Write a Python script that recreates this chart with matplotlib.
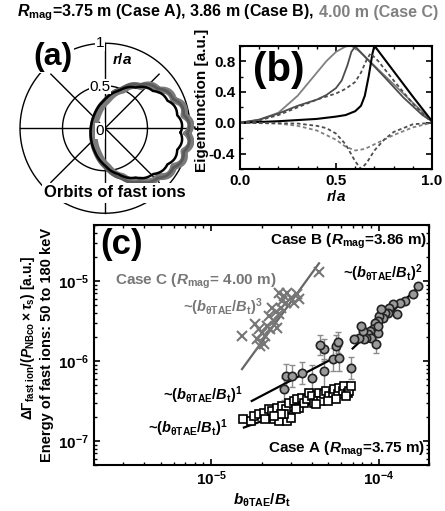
import numpy as np
import matplotlib
matplotlib.use("Agg")
import matplotlib.pyplot as plt
from matplotlib.ticker import MultipleLocator, FixedLocator, LogLocator, NullFormatter

plt.rcParams['font.family'] = ['Liberation Sans', 'DejaVu Sans']
plt.rcParams['font.weight'] = 'bold'
plt.rcParams['mathtext.fontset'] = 'custom'
plt.rcParams['mathtext.rm'] = 'Liberation Sans:bold'
plt.rcParams['mathtext.it'] = 'Liberation Sans:italic:bold'
plt.rcParams['mathtext.bf'] = 'Liberation Sans:bold'
plt.rcParams['axes.linewidth'] = 1.5
for ax_ in ('xtick', 'ytick'):
    plt.rcParams[ax_ + '.direction'] = 'in'
    plt.rcParams[ax_ + '.major.width'] = 1.2
    plt.rcParams[ax_ + '.minor.width'] = 1.0
    plt.rcParams[ax_ + '.major.size'] = 4
    plt.rcParams[ax_ + '.minor.size'] = 2
    plt.rcParams[ax_ + '.labelsize'] = 11
plt.rcParams['xtick.top'] = True
plt.rcParams['ytick.right'] = True

GRAY = '#808080'
DGRAY = '#4d4d4d'

# ---------------- panel (a): polar frame + orbits
grid_radii = [0.5, 1.0]
grid_angles_full = [0, 90]
grid_angles_diag = [45, 135]
orbit_cx = [0.42, 0.40, 0.36]
orbit_cy = [-0.06, -0.06, -0.05]
orbit_r = [0.55, 0.57, 0.53]
orbit_ripple = [0.05, 0.03, 0.025]
orbit_color = ['#7a7a7a', '#5a5a5a', 'black']
orbit_lw = [5.0, 2.0, 1.8]

# ---------------- panel (b): eigenfunctions
rb_c = [0, 0.1, 0.2, 0.3, 0.4, 0.45, 0.5, 0.55, 0.58, 0.62, 0.7, 0.8, 0.9, 1.0]
eb_c = [0, 0.04, 0.13, 0.35, 0.65, 0.8, 0.92, 0.99, 1.0, 0.93, 0.74, 0.5, 0.26, 0.02]
rb_b = [0, 0.1, 0.2, 0.3, 0.4, 0.45, 0.5, 0.53, 0.56, 0.58, 0.6, 0.65, 0.75, 0.85, 0.95, 1.0]
eb_b = [0, 0.04, 0.12, 0.22, 0.3, 0.36, 0.45, 0.55, 0.75, 0.92, 0.99, 0.86, 0.6, 0.33, 0.1, 0.02]
rb_b2 = [0, 0.1, 0.2, 0.3, 0.4, 0.5, 0.55, 0.6, 0.63, 0.66, 0.68, 0.72, 0.8, 0.9, 1.0]
eb_b2 = [0, 0.03, 0.1, 0.2, 0.3, 0.38, 0.44, 0.53, 0.65, 0.82, 0.9, 0.8, 0.55, 0.25, 0.0]
rb_a = [0, 0.2, 0.4, 0.5, 0.55, 0.6, 0.63, 0.65, 0.67, 0.69, 0.70, 0.8, 0.9, 1.0]
eb_a = [0, 0.02, 0.05, 0.08, 0.1, 0.15, 0.22, 0.35, 0.6, 0.9, 1.0, 0.67, 0.34, 0.02]
rb_cn = [0, 0.2, 0.3, 0.4, 0.5, 0.55, 0.6, 0.65, 0.7, 0.8, 0.9, 1.0]
eb_cn = [0, -0.01, -0.04, -0.1, -0.22, -0.31, -0.36, -0.34, -0.28, -0.16, -0.06, 0]
rb_bn = [0, 0.3, 0.4, 0.45, 0.5, 0.55, 0.6, 0.63, 0.66, 0.7, 0.75, 0.8, 0.9, 1.0]
eb_bn = [0, -0.01, -0.04, -0.07, -0.14, -0.28, -0.5, -0.6, -0.52, -0.36, -0.22, -0.12, -0.02, 0]

# ---------------- panel (c): losses vs b/B
case_c_x = [1.53e-5, 4.41e-5, 1.88e-5, 1.97e-5, 2.06e-5, 1.92e-5, 2.01e-5, 2.11e-5, 2.16e-5,
            2.26e-5, 2.37e-5, 2.48e-5, 2.54e-5, 2.43e-5, 2.60e-5, 2.66e-5, 2.72e-5, 2.85e-5,
            2.99e-5, 3.13e-5, 3.35e-5, 2.54e-5, 2.32e-5, 2.21e-5, 1.84e-5, 3.27e-5, 2.79e-5]
case_c_y = [2.02e-6, 1.30e-5, 1.87e-6, 1.54e-6, 1.62e-6, 2.49e-6, 2.26e-6, 2.02e-6, 2.74e-6,
            2.49e-6, 3.16e-6, 2.61e-6, 3.84e-6, 4.03e-6, 4.65e-6, 5.62e-6, 6.49e-6, 7.16e-6,
            6.19e-6, 5.37e-6, 5.90e-6, 7.16e-6, 4.65e-6, 3.65e-6, 2.88e-6, 6.82e-6, 5.37e-6]
case_b_x = [1.72e-4, 1.61e-4, 1.43e-4, 1.34e-4, 1.22e-4, 1.16e-4, 1.14e-4, 1.09e-4, 1.06e-4,
            1.01e-4, 9.9e-5, 9.46e-5, 9.68e-5, 9.25e-5, 8.83e-5, 8.63e-5, 9.04e-5, 8.43e-5,
            8.24e-5, 9.9e-5, 7.69e-5, 8.05e-5, 7.87e-5, 9.9e-5, 1.04e-4, 1.28e-4, 7.17e-5]
case_b_y = [8.67e-6, 6.82e-6, 5.63e-6, 5.37e-6, 5.12e-6, 4.65e-6, 4.02e-6, 4.02e-6, 3.48e-6,
            3.66e-6, 3.16e-6, 3.02e-6, 2.61e-6, 2.49e-6, 2.37e-6, 2.16e-6, 1.96e-6, 1.96e-6,
            1.87e-6, 2.26e-6, 1.96e-6, 2.37e-6, 2.74e-6, 2.74e-6, 4.43e-6, 3.84e-6, 1.87e-6]
case_b2_x = [2.72e-5, 2.79e-5, 3.06e-5, 3.51e-5, 4.03e-5, 4.73e-5, 5.31e-5, 5.83e-5, 6.85e-5,
             4.73e-5, 5.57e-5, 5.69e-5, 4.45e-5, 9.68e-5]
case_b2_y = [4.43e-7, 6.49e-7, 6.49e-7, 7.16e-7, 6.19e-7, 7.50e-7, 1.05e-6, 1.10e-6, 8.27e-7,
             1.40e-6, 1.54e-6, 1.70e-6, 1.60e-6, 1.62e-6]
case_b2_elo = [1.2e-7, 2.0e-7, 1.8e-7, 2.0e-7, 1.8e-7, 3.0e-7, 3.0e-7, 3.5e-7, 2.4e-7,
               4.0e-7, 4.5e-7, 4.5e-7, 4.0e-7, 3.5e-7]
case_b2_ehi = [1.6e-7, 2.6e-7, 2.4e-7, 2.6e-7, 2.8e-7, 3.0e-7, 4.0e-7, 4.5e-7, 3.0e-7,
               5.0e-7, 5.5e-7, 6.0e-7, 5.0e-7, 4.0e-7]
case_a_x = [1.56e-5, 1.72e-5, 1.80e-5, 1.93e-5, 2.06e-5, 2.11e-5, 2.21e-5, 2.32e-5, 2.37e-5,
            2.48e-5, 2.54e-5, 2.66e-5, 2.79e-5, 2.85e-5, 2.92e-5, 2.99e-5, 3.13e-5, 3.27e-5,
            3.35e-5, 3.51e-5, 3.59e-5, 3.76e-5, 3.85e-5, 4.03e-5, 4.12e-5, 4.32e-5, 4.42e-5,
            4.52e-5, 4.73e-5, 4.84e-5, 5.07e-5, 5.31e-5, 5.44e-5, 5.69e-5, 5.83e-5, 6.10e-5,
            6.25e-5, 6.54e-5, 6.69e-5, 6.85e-5, 6.39e-5, 5.57e-5, 4.96e-5, 4.22e-5, 3.20e-5,
            2.72e-5, 2.60e-5, 2.37e-5]
case_a_y = [1.87e-7, 1.78e-7, 2.06e-7, 2.16e-7, 2.26e-7, 1.87e-7, 2.49e-7, 2.37e-7, 1.87e-7,
            2.61e-7, 1.78e-7, 2.74e-7, 2.49e-7, 1.78e-7, 3.02e-7, 1.96e-7, 3.16e-7, 3.32e-7,
            2.61e-7, 3.48e-7, 3.02e-7, 3.32e-7, 4.02e-7, 3.66e-7, 3.02e-7, 3.48e-7, 4.02e-7,
            3.16e-7, 3.84e-7, 4.22e-7, 3.66e-7, 4.02e-7, 4.43e-7, 3.84e-7, 4.65e-7, 4.22e-7,
            4.87e-7, 4.02e-7, 4.22e-7, 4.87e-7, 3.66e-7, 3.32e-7, 3.16e-7, 2.88e-7, 2.49e-7,
            2.16e-7, 2.16e-7, 2.06e-7]
fit_c_x, fit_c_y = [1.53e-5, 4.41e-5], [7.9e-7, 1.66e-5]
fit_b_x, fit_b_y = [7.0e-5, 1.76e-4], [1.43e-6, 8.66e-6]
fit_b2_x, fit_b2_y = [1.75e-5, 5.83e-5], [3.16e-7, 1.18e-6]
fit_a_x, fit_a_y = [1.57e-5, 6.87e-5], [1.47e-7, 4.43e-7]

fig = plt.figure(figsize=(4.45, 5.11), dpi=100)

# title in two colours: black part, then grey part right after it
t1 = fig.text(17 / 445, 1 - 13 / 511, r'$R_{\mathrm{mag}}$=3.75 m (Case A), 3.86 m (Case B),',
              ha='left', va='center', fontsize=11.5)
fig.canvas.draw()
bb = t1.get_window_extent()
fig.text(bb.x1 / fig.bbox.width + 5 / 445, 1 - 13 / 511, '4.00 m (Case C)', color=GRAY,
         ha='left', va='center', fontsize=11.5)

# ---- (a)
axa = fig.add_axes([15.75 / 445, 1 - 217.5 / 511, 178.5 / 445, 178.5 / 511])
axa.set_xlim(-1.05, 1.05)
axa.set_ylim(-1.05, 1.05)
axa.axis('off')
th = np.linspace(0, 2 * np.pi, 721)
for r in grid_radii:
    axa.plot(r * np.cos(th), r * np.sin(th), color='black', lw=1.0)
for ang in grid_angles_full:
    a = np.deg2rad(ang)
    axa.plot([-np.cos(a), np.cos(a)], [-np.sin(a), np.sin(a)], color='black', lw=1.0)
for ang in grid_angles_diag:
    a = np.deg2rad(ang)
    axa.plot([-0.9 * np.cos(a), 0.9 * np.cos(a)], [-0.9 * np.sin(a), 0.9 * np.sin(a)],
             color='black', lw=1.0)
for cx, cy, r0, rip, col, lw in zip(orbit_cx, orbit_cy, orbit_r, orbit_ripple, orbit_color, orbit_lw):
    rr = r0 + rip * np.abs(np.sin(8 * th)) * (1 + np.cos(th)) / 2
    axa.plot(cx + rr * np.cos(th), cy + rr * np.sin(th), color=col, lw=lw, solid_joinstyle='round')
wb = dict(facecolor='white', edgecolor='none', pad=0.5)
axa.text(-0.06, 1.0, '1', ha='center', va='center', fontsize=11, fontweight='normal', bbox=wb)
axa.text(-0.06, 0.49, '0.5', ha='center', va='center', fontsize=11, fontweight='normal', bbox=wb)
axa.text(-0.06, -0.03, '0', ha='center', va='center', fontsize=11, fontweight='normal', bbox=wb)
axa.text(0.08, 0.81, r'$r/a$', ha='left', va='center', fontsize=11)
axa.text(-0.61, 0.84, '(a)', ha='center', va='center', fontsize=23,
         bbox=dict(facecolor='white', edgecolor='none', pad=1))
axa.text(0.12, -0.76, 'Orbits of fast ions', ha='center', va='center', fontsize=12,
         bbox=dict(facecolor='white', edgecolor='none', pad=2))

# ---- (b)
axb = fig.add_axes([240 / 445, 1 - 169 / 511, 192 / 445, 123.3 / 511])
axb.plot(rb_c, eb_c, color=GRAY, lw=1.3)
axb.plot(rb_b, eb_b, color=DGRAY, lw=1.3)
axb.plot(rb_a, eb_a, color='black', lw=1.5)
axb.plot(rb_b2, eb_b2, color=DGRAY, lw=1.3, ls=(0, (2, 1.5)))
axb.plot(rb_cn, eb_cn, color=GRAY, lw=1.3, ls=(0, (2, 1.5)))
axb.plot(rb_bn, eb_bn, color=DGRAY, lw=1.3, ls=(0, (2, 1.5)))
axb.set_xlim(0, 1)
axb.set_ylim(-0.6, 1.0)
axb.xaxis.set_major_locator(FixedLocator([0, 0.5, 1.0]))
axb.set_xticklabels(['0.0', '0.5', '1.0'])
axb.yaxis.set_major_locator(FixedLocator([-0.4, 0.0, 0.4, 0.8]))
axb.set_yticklabels(['-0.4', '0.0', '0.4', '0.8'])
axb.xaxis.set_minor_locator(MultipleLocator(0.1))
axb.yaxis.set_minor_locator(MultipleLocator(0.2))
axb.set_xlabel(r'$r/a$', fontsize=11, labelpad=1)
axb.text(0.07, 0.8, '(b)', transform=axb.transAxes, ha='left', va='center', fontsize=29)
fig.text(201.7 / 445, 1 - 100 / 511, 'Eigenfunction [a.u.]', rotation=90,
         ha='center', va='center', fontsize=11)

# ---- (c)
axc = fig.add_axes([94 / 445, 46 / 511, 335 / 445, 240 / 511])
axc.set_xscale('log')
axc.set_yscale('log')
axc.errorbar(case_b2_x, case_b2_y, yerr=[case_b2_elo, case_b2_ehi], fmt='none',
             ecolor='#8c8c8c', elinewidth=1.0, capsize=2.5, capthick=1.0, zorder=2)
axc.plot(fit_c_x, fit_c_y, color='#666666', lw=1.6, zorder=3)
axc.plot(fit_b_x, fit_b_y, color='black', lw=1.6, zorder=3)
axc.plot(fit_b2_x, fit_b2_y, color='black', lw=1.6, zorder=3)
axc.plot(fit_a_x, fit_a_y, color='black', lw=1.6, zorder=3)
axc.plot(case_c_x, case_c_y, 'x', color='#777777', ms=7, mew=1.5, zorder=4)
axc.plot(case_b_x, case_b_y, 'o', mfc='#9a9a9a', mec='#222222', ms=6, mew=1.2, zorder=4)
axc.plot(case_b2_x, case_b2_y, 'o', mfc='#9a9a9a', mec='#222222', ms=6, mew=1.2, zorder=4)
axc.plot(case_a_x, case_a_y, 's', mfc='white', mec='black', ms=6, mew=1.2, zorder=4)
axc.set_xlim(2e-6, 2e-4)
axc.set_ylim(5e-8, 5e-5)
axc.xaxis.set_major_locator(FixedLocator([1e-5, 1e-4]))
axc.yaxis.set_major_locator(FixedLocator([1e-7, 1e-6, 1e-5]))
axc.xaxis.set_minor_locator(LogLocator(base=10, subs=np.arange(2, 10)))
axc.yaxis.set_minor_locator(LogLocator(base=10, subs=np.arange(2, 10)))
axc.xaxis.set_minor_formatter(NullFormatter())
axc.yaxis.set_minor_formatter(NullFormatter())
axc.set_xlabel(r'$b_{\mathrm{\theta TAE}}/B_{\mathrm{t}}$', fontsize=11, labelpad=2)
fig.text(28 / 445, 1 - 338 / 511,
         r'$\Delta\Gamma_{\mathrm{fast\ ion}}/(P_{\mathrm{NBco}}\times\tau_{\mathrm{s}})$ [a.u.]',
         rotation=90, ha='center', va='center', fontsize=10)
fig.text(47 / 445, 1 - 345 / 511, 'Energy of fast ions: 50 to 180 keV',
         rotation=90, ha='center', va='center', fontsize=10.5)

tc = axc.transAxes
axc.text(0.018, 0.917, '(c)', transform=tc, ha='left', va='center', fontsize=25)
axc.text(0.994, 0.93, r'Case B ($R_{\mathrm{mag}}$=3.86 m)', transform=tc,
         ha='right', va='center', fontsize=11)
axc.text(0.979, 0.80, r'~$(b_{\mathrm{\theta TAE}}/B_{\mathrm{t}})^2$', transform=tc,
         ha='right', va='center', fontsize=10.5)
axc.text(0.063, 0.767, r'Case C ($R_{\mathrm{mag}}$= 4.00 m)', transform=tc, color='#777777',
         ha='left', va='center', fontsize=11)
axc.text(0.266, 0.658, r'~$(b_{\mathrm{\theta TAE}}/B_{\mathrm{t}})^3$', transform=tc,
         color='#777777', ha='left', va='center', fontsize=10.5)
axc.text(0.206, 0.29, r'~$(b_{\mathrm{\theta TAE}}/B_{\mathrm{t}})^1$', transform=tc,
         ha='left', va='center', fontsize=10.5)
axc.text(0.161, 0.154, r'~$(b_{\mathrm{\theta TAE}}/B_{\mathrm{t}})^1$', transform=tc,
         ha='left', va='center', fontsize=10.5)
axc.text(0.988, 0.067, r'Case A ($R_{\mathrm{mag}}$=3.75 m)', transform=tc,
         ha='right', va='center', fontsize=11)

fig.savefig('out.png', dpi=100)
